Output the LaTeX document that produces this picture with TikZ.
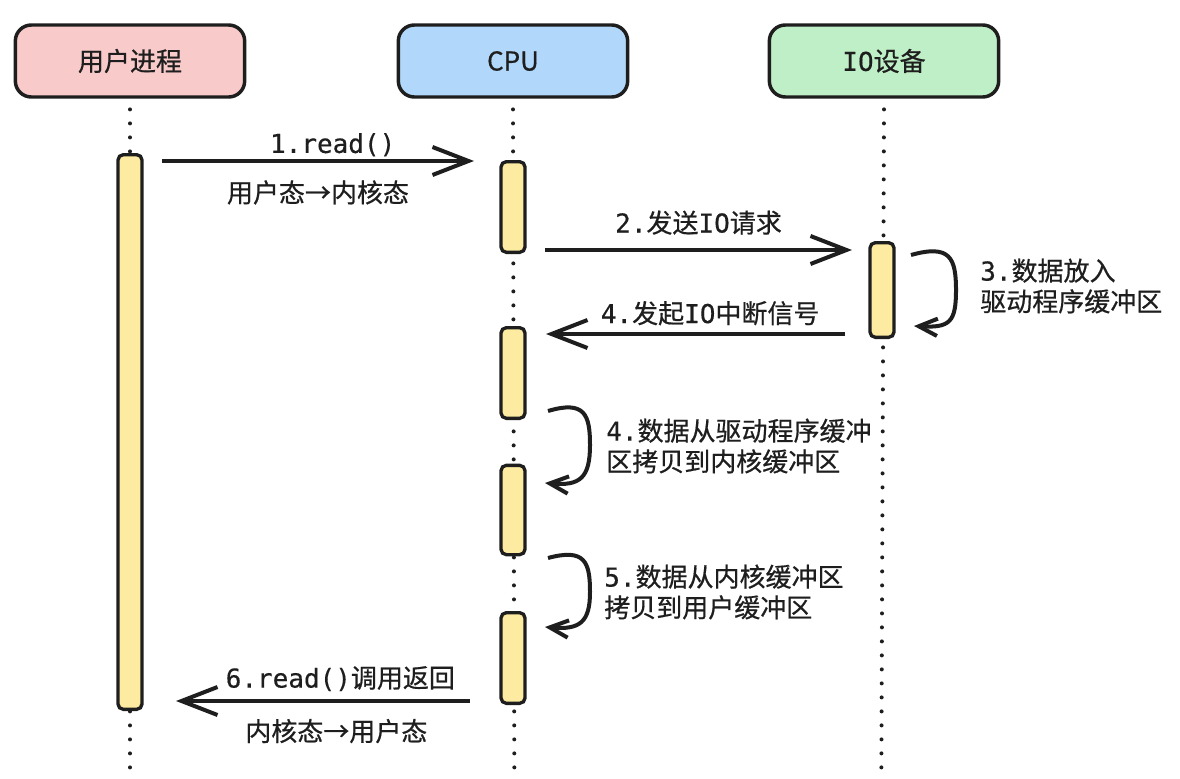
\documentclass[tikz,border=0pt]{standalone}
\usepackage{fontspec}
\setmainfont{Noto Sans CJK SC}[FakeBold=0.6]
\setmonofont{DejaVu Sans Mono}[FakeBold=0.4]
\usepackage{tikz}
\usetikzlibrary{arrows.meta, positioning}

\definecolor{inkc}{HTML}{1E1E1E}
\definecolor{userc}{HTML}{F8CACA}
\definecolor{cpuc}{HTML}{B1D8FA}
\definecolor{ioc}{HTML}{BFEFC6}
\definecolor{barc}{HTML}{FCEBA0}

\begin{document}
\begin{tikzpicture}[
  x=0.75pt, y=-0.75pt,
  font=\fontsize{19.5}{23}\selectfont,
  text=inkc,
  head/.style={draw=inkc, line width=2.6pt, rounded corners=12pt, minimum width=172pt, minimum height=54pt},
  bar/.style={draw=inkc, fill=barc, line width=2.5pt, rounded corners=4pt, minimum width=18pt, inner sep=0pt},
  lifeline/.style={draw=inkc, line width=3pt, line cap=round, dash pattern=on 0pt off 10.5pt},
  msg/.style={draw=inkc, line width=3pt, -{Straight Barb[length=27pt, width=21pt, line width=3pt]}},
  loopline/.style={draw=inkc, line width=3pt, -{Straight Barb[length=14pt, width=13pt, line width=3pt]}},
  lbl/.style={align=left, anchor=west, inner sep=0pt},
  mlbl/.style={inner sep=0pt}
]
  \useasboundingbox (0,0) rectangle (1180,778);

  % participants
  \node[head, fill=userc] (user) at (130,61) {用户进程};
  \node[head, fill=cpuc] (cpu) at (513,61) {CPU};
  \node[head, fill=ioc] (io) at (884,61) {\texttt{IO}设备};

  % lifelines
  \draw[lifeline] ([yshift=-8pt]user.south) -- (user.south |- 0,778);
  \draw[lifeline] ([yshift=-8pt]cpu.south) -- ([xshift=1pt]cpu.south |- 0,778);
  \draw[lifeline] ([yshift=-8pt]io.south) -- ([xshift=-2pt]io.south |- 0,778);

  % activations
  \node[bar, minimum height=416pt] (ubar) at (130,432) {};
  \node[bar, minimum height=68pt] (cbar1) at (513,207) {};
  \node[bar, minimum height=68pt] (cbar2) at (513,373) {};
  \node[bar, minimum height=67pt] (cbar3) at (513,510) {};
  \node[bar, minimum height=68pt] (cbar4) at (513,658) {};
  \node[bar, minimum height=71pt] (iobar) at (882,290) {};

  % message ends
  \coordinate (m1s) at (162,161);
  \coordinate (m1e) at (474,161);
  \coordinate (m2s) at (545,250);
  \coordinate (m2e) at (852,250);
  \coordinate (m4s) at (845,334);
  \coordinate (m4e) at (546,334);
  \coordinate (m6s) at (470,701);
  \coordinate (m6e) at (176,701);

  \draw[msg] (m1s) -- (m1e)
    node[mlbl, midway, above=2pt, xshift=11pt] {\texttt{1.read()}}
    node[mlbl, midway, below=13pt] {用户态→内核态};
  \draw[msg] (m2s) -- (m2e)
    node[mlbl, midway, above=10pt] {\texttt{2.}发送\texttt{IO}请求};
  \draw[msg] (m4s) -- (m4e)
    node[mlbl, midway, above=5pt, xshift=11pt] {\texttt{4.}发起\texttt{IO}中断信号};
  \draw[msg] (m6s) -- (m6e)
    node[mlbl, midway, above=6pt, xshift=13pt] {\texttt{6.read()}调用返回}
    node[mlbl, midway, below=12pt, xshift=10pt] {内核态→用户态};

  % self calls
  \coordinate (l3s) at (911,255);
  \coordinate (l3e) at (914,326);
  \coordinate (l4s) at (548,411);
  \coordinate (l4e) at (545,483);
  \coordinate (l5s) at (548,558);
  \coordinate (l5e) at (545,627);

  \draw[loopline] (l3s) .. controls (950,244) and (956,258) .. (956,290)
    .. controls (956,322) and (950,328) .. (l3e);
  \draw[loopline] (l4s) .. controls (585,400) and (590,415) .. (590,445)
    .. controls (590,478) and (580,486) .. (l4e);
  \draw[loopline] (l5s) .. controls (585,548) and (590,562) .. (590,592)
    .. controls (590,622) and (580,630) .. (l5e);

  \node[lbl] (t3) at (980,286) {\texttt{3.}数据放入\\驱动程序缓冲区};
  \node[lbl] (t4) at (606,446) {\texttt{4.}数据从驱动程序缓冲\\区拷贝到内核缓冲区};
  \node[lbl] (t5) at (604,592) {\texttt{5.}数据从内核缓冲区\\拷贝到用户缓冲区};
\end{tikzpicture}
\end{document}
